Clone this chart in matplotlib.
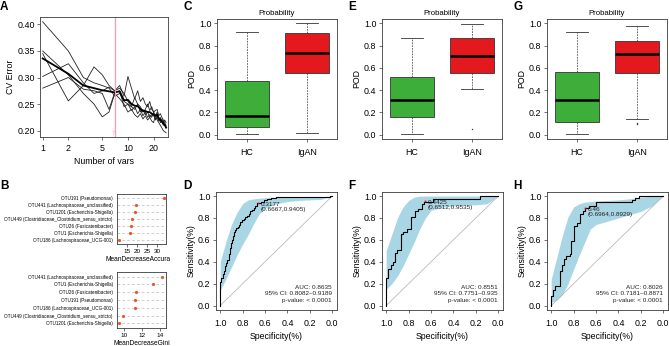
import numpy as np
import matplotlib
matplotlib.use('Agg')
import matplotlib.pyplot as plt
from matplotlib.transforms import Bbox, TransformedBbox

plt.rcParams['font.family'] = ['Liberation Sans', 'DejaVu Sans']

W, H = 669, 346

# ---------------- panel A: cross-validation error vs number of variables
n_vars = list(range(1, 29))
cv_err_1 = [0.405, 0.350, 0.300, 0.290, 0.285, 0.280, 0.265, 0.270, 0.255, 0.250, 0.245, 0.240, 0.250, 0.235,
            0.240, 0.230, 0.235, 0.225, 0.230, 0.228, 0.222, 0.230, 0.225, 0.215, 0.220, 0.210, 0.212, 0.205]
cv_err_2 = [0.350, 0.305, 0.270, 0.250, 0.226, 0.235, 0.270, 0.260, 0.250, 0.235, 0.240, 0.230, 0.225, 0.232,
            0.222, 0.228, 0.220, 0.225, 0.218, 0.215, 0.230, 0.220, 0.215, 0.210, 0.205, 0.200, 0.198, 0.196]
cv_err_3 = [0.302, 0.326, 0.290, 0.270, 0.275, 0.282, 0.275, 0.285, 0.265, 0.302, 0.280, 0.260, 0.275, 0.255,
            0.262, 0.250, 0.245, 0.255, 0.240, 0.235, 0.238, 0.240, 0.228, 0.232, 0.225, 0.220, 0.215, 0.210]
cv_err_4 = [0.345, 0.256, 0.285, 0.320, 0.305, 0.285, 0.275, 0.280, 0.270, 0.255, 0.245, 0.262, 0.250, 0.245,
            0.235, 0.240, 0.250, 0.238, 0.245, 0.235, 0.228, 0.235, 0.225, 0.220, 0.222, 0.215, 0.220, 0.215]
cv_err_5 = [0.280, 0.300, 0.278, 0.275, 0.270, 0.240, 0.272, 0.275, 0.245, 0.250, 0.238, 0.245, 0.232, 0.240,
            0.228, 0.235, 0.225, 0.230, 0.225, 0.235, 0.220, 0.225, 0.218, 0.225, 0.215, 0.218, 0.210, 0.205]
cv_err_mean = [0.336, 0.307, 0.285, 0.280, 0.276, 0.274, 0.272, 0.274, 0.257, 0.258, 0.250, 0.247, 0.246, 0.241,
               0.237, 0.237, 0.235, 0.235, 0.232, 0.230, 0.228, 0.230, 0.222, 0.220, 0.217, 0.213, 0.211, 0.206]
best_nvar = 7

# ---------------- panel B: variable importance
acc_labels = ['OTU191 (Pseudomonas)', 'OTU441 (Lachnospiraceae_unclassified)', 'OTU1201 (Escherichia-Shigella)',
              'OTU449 (Clostridiaceae_Clostridium_sensu_stricto)', 'OTU26 (Fusicatenibacter)',
              'OTU1 (Escherichia-Shigella)', 'OTU186 (Lachnospiraceae_UCG-001)']
acc_values = [33.1, 19.6, 18.7, 17.5, 16.7, 16.5, 10.9]
gini_labels = ['OTU441 (Lachnospiraceae_unclassified)', 'OTU1 (Escherichia-Shigella)', 'OTU26 (Fusicatenibacter)',
               'OTU191 (Pseudomonas)', 'OTU186 (Lachnospiraceae_UCG-001)',
               'OTU449 (Clostridiaceae_Clostridium_sensu_stricto)', 'OTU1201 (Escherichia-Shigella)']
gini_values = [14.25, 13.2, 11.3, 11.28, 11.2, 9.9, 9.45]

# ---------------- boxplots: whisker low, q1, median, q3, whisker high
groups = ['HC', 'IgAN']
box_C_hc = [0.009, 0.069, 0.170, 0.484, 0.925]
box_C_igan = [0.015, 0.552, 0.737, 0.916, 1.000]
box_E_hc = [0.006, 0.157, 0.312, 0.522, 0.869]
box_E_igan = [0.407, 0.558, 0.706, 0.869, 0.994]
box_E_igan_out = [0.05]
box_G_hc = [0.003, 0.115, 0.309, 0.565, 0.926]
box_G_igan = [0.141, 0.556, 0.724, 0.841, 0.979]
box_G_igan_out = [0.103, 0.091]

# ---------------- ROC curves (specificity, sensitivity)
roc_D_spec = [1.0, 1.0, 0.99, 0.975, 0.965, 0.955, 0.945, 0.935, 0.925, 0.915, 0.905, 0.895, 0.885, 0.875, 0.865,
              0.855, 0.845, 0.835, 0.82, 0.805, 0.79, 0.775, 0.76, 0.745, 0.73, 0.715, 0.70, 0.685, 0.667, 0.64,
              0.61, 0.58, 0.55, 0.50, 0.02, 0.0]
roc_D_sens = [0.0, 0.22, 0.25, 0.29, 0.32, 0.36, 0.39, 0.42, 0.47, 0.53, 0.57, 0.60, 0.64, 0.67, 0.69, 0.71, 0.72,
              0.74, 0.76, 0.78, 0.79, 0.81, 0.82, 0.84, 0.86, 0.87, 0.89, 0.91, 0.94, 0.95, 0.96, 0.97, 0.98, 0.99,
              1.0, 1.0]
roc_F_spec = [1.0, 1.0, 0.985, 0.96, 0.94, 0.92, 0.90, 0.87, 0.85, 0.81, 0.78, 0.74, 0.72, 0.68, 0.66, 0.58, 0.16, 0.0]
roc_F_sens = [0.0, 0.25, 0.33, 0.37, 0.40, 0.48, 0.51, 0.65, 0.67, 0.70, 0.81, 0.86, 0.88, 0.93, 0.95, 0.97, 1.0, 1.0]
roc_H_spec = [1.0, 1.0, 0.985, 0.97, 0.92, 0.905, 0.89, 0.87, 0.835, 0.82, 0.80, 0.77, 0.74, 0.72, 0.70, 0.66, 0.60,
              0.28, 0.25, 0.22, 0.0]
roc_H_sens = [0.0, 0.09, 0.14, 0.18, 0.32, 0.37, 0.43, 0.45, 0.47, 0.59, 0.73, 0.75, 0.84, 0.86, 0.89, 0.91, 0.945,
              0.96, 0.98, 1.0, 1.0]

ci_spec = [1.0, 0.95, 0.9, 0.85, 0.8, 0.75, 0.7, 0.65, 0.6, 0.5, 0.4, 0.3, 0.2, 0.1, 0.0]
ci_D_hi = [0.40, 0.58, 0.74, 0.85, 0.93, 0.965, 0.975, 0.98, 0.985, 0.99, 0.99, 0.99, 0.99, 0.995, 1.0]
ci_D_lo = [0.14, 0.24, 0.35, 0.46, 0.56, 0.65, 0.75, 0.84, 0.89, 0.93, 0.95, 0.96, 0.965, 0.97, 1.0]
ci_F_hi = [0.50, 0.65, 0.80, 0.90, 0.96, 0.99, 1.0, 1.0, 1.0, 1.0, 1.0, 1.0, 1.0, 1.0, 1.0]
ci_F_lo = [0.15, 0.20, 0.27, 0.36, 0.47, 0.58, 0.70, 0.80, 0.87, 0.90, 0.91, 0.92, 0.92, 0.93, 1.0]
ci_H_hi = [0.24, 0.44, 0.64, 0.81, 0.90, 0.93, 0.945, 0.95, 0.955, 0.96, 0.965, 0.975, 0.99, 1.0, 1.0]
ci_H_lo = [0.03, 0.05, 0.10, 0.20, 0.33, 0.46, 0.58, 0.70, 0.74, 0.77, 0.80, 0.83, 0.86, 0.91, 1.0]

best_D = (0.6667, 0.9405, '0.3177')
best_F = (0.6512, 0.9535, '0.4425')
best_H = (0.6964, 0.8929, '0.46')
auc_D = ['AUC: 0.8635', '95% CI: 0.8082\u20130.9189', 'p-value: < 0.0001']
auc_F = ['AUC: 0.8551', '95% CI: 0.7751\u20130.935', 'p-value: < 0.0001']
auc_H = ['AUC: 0.8026', '95% CI: 0.7181\u20130.8871', 'p-value: < 0.0001']

GREEN = '#3DAE3A'
RED = '#E3191E'
FRAME = '#3a3a3a'
BAND = '#A9D6E5'
TICK_FS = 6.4
LAB_FS = 6.3


def px_axes(fig, x0, y0, x1, y1):
    return fig.add_axes([x0 / W, 1 - y1 / H, (x1 - x0) / W, (y1 - y0) / H])


def r_style(ax, fs=TICK_FS):
    for s in ax.spines.values():
        s.set_color(FRAME)
        s.set_linewidth(0.6)
    ax.tick_params(length=2.2, width=0.5, pad=1.5, labelsize=fs, color=FRAME)


fig = plt.figure(figsize=(W / 100, H / 100), dpi=100)

# ---------- A
ax = px_axes(fig, 40, 17, 168, 137)
for ys in [cv_err_1, cv_err_2, cv_err_3, cv_err_4, cv_err_5]:
    ax.plot(n_vars, ys, color='#222222', lw=0.6)
ax.plot(n_vars, cv_err_mean, color='black', lw=1.3)
ax.axvline(best_nvar, color='#FF9AB0', lw=0.9)
ax.set_xscale('log')
ax.set_xlim(0.93, 29.5)
ax.set_ylim(0.188, 0.414)
ax.set_xticks([1, 2, 5, 10, 20])
ax.set_xticklabels(['1', '2', '5', '10', '20'])
ax.minorticks_off()
ax.set_yticks([0.20, 0.25, 0.30, 0.35, 0.40])
ax.set_yticklabels(['0.20', '0.25', '0.30', '0.35', '0.40'])
ax.text(best_nvar, 0.190, str(best_nvar), color='#FF9AB0', fontsize=4.5, ha='right', va='bottom')
ax.set_xlabel('Number of vars', fontsize=LAB_FS, labelpad=3)
ax.set_ylabel('CV Error', fontsize=LAB_FS, labelpad=1.5)
r_style(ax)
ax.tick_params(axis='x', pad=2.5)


# ---------- B
def dot_panel(ax, labels, values, xticks, xlabel):
    pos = np.arange(len(labels))[::-1]
    for p in pos:
        ax.axhline(p, color='#BBBBBB', lw=0.5, ls=(0, (4, 3)), zorder=1)
    ax.plot(values, pos, 'o', color='#F0522A', ms=2.3, mec='none', zorder=3)
    ax.set_yticks(pos)
    ax.set_yticklabels(labels)
    ax.set_ylim(-0.6, len(labels) - 0.4)
    ax.set_xticks(xticks)
    r_style(ax, 4.6)
    ax.tick_params(axis='y', length=0, pad=3, labelsize=3.3)
    ax.set_xlabel(xlabel, fontsize=4.8, labelpad=1.5)


ax = px_axes(fig, 117, 194, 166, 244)
dot_panel(ax, acc_labels, acc_values, [15, 20, 25, 30], 'MeanDecreaseAccuracy')
ax.set_xlim(10.0, 34.2)
lab = ax.xaxis.label
lab.set_clip_box(TransformedBbox(Bbox([[0, 0], [170 / W, 1]]), fig.transFigure))
lab.set_clip_on(True)

ax = px_axes(fig, 117, 272, 166, 328)
dot_panel(ax, gini_labels, gini_values, [10, 12, 14], 'MeanDecreaseGini')
ax.set_xlim(9.25, 14.65)


# ---------- box panels
def box_panel(x0, hc, igan, hc_out, igan_out):
    ax = px_axes(fig, x0, 19, x0 + 120, 139)
    stats = []
    for name, q, out in zip(groups, [hc, igan], [hc_out, igan_out]):
        stats.append(dict(label=name, whislo=q[0], q1=q[1], med=q[2], q3=q[3], whishi=q[4], fliers=out))
    bp = ax.bxp(stats, positions=[1, 2], widths=0.73, patch_artist=True,
                boxprops=dict(edgecolor='#333333', linewidth=0.6),
                medianprops=dict(color='black', linewidth=1.8),
                whiskerprops=dict(color='#333333', linewidth=0.5, linestyle=(0, (2.5, 1.5))),
                capprops=dict(color='#333333', linewidth=0.6),
                flierprops=dict(marker='o', markersize=1.0, markerfacecolor='#333333', markeredgecolor='none'))
    for patch, c in zip(bp['boxes'], [GREEN, RED]):
        patch.set_facecolor(c)
    ax.set_xlim(0.5, 2.5)
    ax.set_ylim(-0.04, 1.04)
    ax.set_yticks([0.0, 0.2, 0.4, 0.6, 0.8, 1.0])
    ax.set_yticklabels(['0.0', '0.2', '0.4', '0.6', '0.8', '1.0'])
    ax.set_title('Probability', fontsize=5.6, pad=3)
    ax.set_ylabel('POD', fontsize=LAB_FS, labelpad=2)
    r_style(ax)
    ax.tick_params(axis='x', pad=4)
    return ax


box_panel(216.7, box_C_hc, box_C_igan, [], [])
box_panel(381.7, box_E_hc, box_E_igan, [], box_E_igan_out)
box_panel(546.7, box_G_hc, box_G_igan, [], box_G_igan_out)


# ---------- ROC panels
def roc_panel(x0, spec, sens, ci_lo, ci_hi, best, auc_lines):
    ax = px_axes(fig, x0, 191.7, x0 + 121, 310)
    ax.fill_between(ci_spec, ci_lo, ci_hi, color=BAND, lw=0, zorder=1)
    ax.plot([1, 0], [0, 1], color='#BBBBBB', lw=0.6, zorder=2)
    ax.plot(spec, sens, color='black', lw=0.8, drawstyle='steps-post', zorder=3)
    ax.plot(best[0], best[1], 's', color='red', ms=1.2, mec='none', zorder=4)
    ax.text(best[0] - 0.025, best[1] + 0.01, '%s\n(%.4f,%.4f)' % (best[2], best[0], best[1]),
            fontsize=4.6, ha='left', va='top', color='#222222', linespacing=1.0, zorder=5)
    for i, t in enumerate(auc_lines):
        ax.text(0.005, 0.168 - 0.06 * i, t, fontsize=4.6, ha='right', va='center', color='#222222')
    ax.set_xlim(1.04, -0.04)
    ax.set_ylim(-0.04, 1.04)
    ticks = [0.0, 0.2, 0.4, 0.6, 0.8, 1.0]
    ax.set_xticks(ticks)
    ax.set_xticklabels(['%.1f' % t for t in ticks])
    ax.set_yticks(ticks)
    ax.set_yticklabels(['%.1f' % t for t in ticks])
    ax.set_xlabel('Specificity(%)', fontsize=LAB_FS, labelpad=3)
    ax.set_ylabel('Sensitivity(%)', fontsize=LAB_FS, labelpad=2)
    r_style(ax)
    ax.tick_params(axis='x', pad=4)
    return ax


roc_panel(215.7, roc_D_spec, roc_D_sens, ci_D_lo, ci_D_hi, best_D, auc_D)
roc_panel(381.7, roc_F_spec, roc_F_sens, ci_F_lo, ci_F_hi, best_F, auc_F)
roc_panel(546.7, roc_H_spec, roc_H_sens, ci_H_lo, ci_H_hi, best_H, auc_H)

# ---------- panel letters
for letter, x, y in [('A', 0, 7), ('B', 0, 186), ('C', 183, 7), ('D', 183, 186),
                     ('E', 348, 7), ('F', 348, 186), ('G', 513, 7), ('H', 513, 186)]:
    fig.text(x / W, 1 - y / H, letter, fontsize=8.5, fontweight='bold', ha='left', va='center')

fig.savefig('out.png', dpi=100)
